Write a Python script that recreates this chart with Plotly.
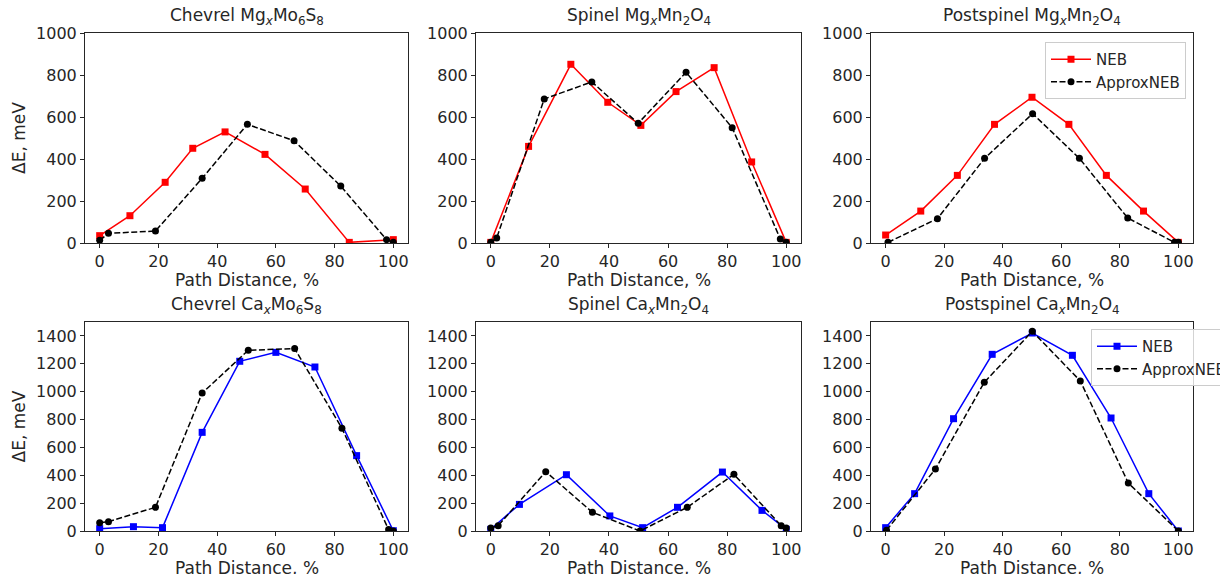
import plotly.graph_objects as go

# ---- data ----
mg_chev_neb_x = [0, 10.3, 22.3, 31.7, 42.7, 56.3, 70.0, 85.0, 100]
mg_chev_neb_y = [35, 130, 289, 451, 529, 422, 257, 3, 16]
mg_chev_apx_x = [0, 3.0, 19.0, 34.9, 50.3, 66.2, 82.1, 97.7, 100]
mg_chev_apx_y = [13, 46, 57, 308, 565, 487, 271, 16, 3]

mg_spin_neb_x = [0, 12.8, 27.1, 39.6, 50.8, 62.7, 75.6, 88.3, 100]
mg_spin_neb_y = [3, 460, 851, 670, 560, 721, 835, 386, 3]
mg_spin_apx_x = [0, 2.0, 18.1, 34.2, 49.9, 66.1, 81.7, 98.0, 100]
mg_spin_apx_y = [3, 24, 686, 767, 570, 813, 549, 19, 3]

mg_post_neb_x = [0, 12.0, 24.5, 37.2, 50.0, 62.6, 75.4, 88.1, 100]
mg_post_neb_y = [38, 152, 322, 565, 694, 565, 322, 152, 3]
mg_post_apx_x = [0.8, 17.7, 33.8, 50.2, 66.2, 82.7, 98.7, 100]
mg_post_apx_y = [3, 116, 403, 616, 403, 119, 3, 3]

ca_chev_neb_x = [0, 11.5, 21.4, 34.9, 47.7, 60.0, 73.3, 87.5, 100]
ca_chev_neb_y = [17, 31, 24, 708, 1218, 1282, 1177, 541, 2]
ca_chev_apx_x = [0, 3.0, 19.0, 34.9, 50.6, 66.4, 82.5, 98.4, 100]
ca_chev_apx_y = [60, 67, 170, 990, 1297, 1309, 737, 10, 0]

ca_spin_neb_x = [0, 9.7, 25.6, 40.3, 51.4, 63.2, 78.4, 91.8, 100]
ca_spin_neb_y = [12, 191, 404, 108, 24, 170, 423, 148, 12]
ca_spin_apx_x = [0, 2.5, 18.6, 34.4, 50.5, 66.5, 82.3, 98.3, 100]
ca_spin_apx_y = [22, 38, 426, 134, 0, 170, 407, 38, 22]

ca_post_neb_x = [0, 9.9, 23.2, 36.4, 50.1, 63.8, 77.0, 89.9, 100]
ca_post_neb_y = [24, 268, 806, 1268, 1421, 1261, 811, 268, 0]
ca_post_apx_x = [0.3, 17.0, 33.7, 50.1, 66.5, 82.9, 100]
ca_post_apx_y = [5, 445, 1067, 1433, 1077, 344, 0]

titles = [
    "Chevrel Mg<sub><i>x</i></sub>Mo<sub>6</sub>S<sub>8</sub>",
    "Spinel Mg<sub><i>x</i></sub>Mn<sub>2</sub>O<sub>4</sub>",
    "Postspinel Mg<sub><i>x</i></sub>Mn<sub>2</sub>O<sub>4</sub>",
    "Chevrel Ca<sub><i>x</i></sub>Mo<sub>6</sub>S<sub>8</sub>",
    "Spinel Ca<sub><i>x</i></sub>Mn<sub>2</sub>O<sub>4</sub>",
    "Postspinel Ca<sub><i>x</i></sub>Mn<sub>2</sub>O<sub>4</sub>",
]
x_label = "Path Distance, %"
y_label = "ΔE, meV"
x_ticks = [0, 20, 40, 60, 80, 100]
y_ticks_mg = [0, 200, 400, 600, 800, 1000]
y_ticks_ca = [0, 200, 400, 600, 800, 1000, 1200, 1400]

panels = [
    (mg_chev_neb_x, mg_chev_neb_y, mg_chev_apx_x, mg_chev_apx_y),
    (mg_spin_neb_x, mg_spin_neb_y, mg_spin_apx_x, mg_spin_apx_y),
    (mg_post_neb_x, mg_post_neb_y, mg_post_apx_x, mg_post_apx_y),
    (ca_chev_neb_x, ca_chev_neb_y, ca_chev_apx_x, ca_chev_apx_y),
    (ca_spin_neb_x, ca_spin_neb_y, ca_spin_apx_x, ca_spin_apx_y),
    (ca_post_neb_x, ca_post_neb_y, ca_post_apx_x, ca_post_apx_y),
]

W, H = 1220, 574
col_px = [(85, 408), (476, 801), (871, 1193)]
row_px = [(33, 243), (322, 531)]
xlab_px = [280, 568]
FONT = "DejaVu Sans"
TXT = "#262626"
TICK_FS = 16
LAB_FS = 17
TITLE_FS = 17
LEG_FS = 15

fig = go.Figure()
layout = dict(
    width=W, height=H,
    margin=dict(l=0, r=0, t=0, b=0, autoexpand=False),
    paper_bgcolor="white", plot_bgcolor="white",
    font=dict(family=FONT, size=TICK_FS, color=TXT),
    annotations=[],
)

for i, (nx, ny, ax_, ay) in enumerate(panels):
    r, c = divmod(i, 3)
    k = i + 1
    xa = "x" if k == 1 else f"x{k}"
    ya = "y" if k == 1 else f"y{k}"
    neb_col = "#ff0000" if r == 0 else "#0000ff"
    leg = "legend" if r == 0 else "legend2"
    show = (c == 2)
    fig.add_trace(go.Scatter(
        x=nx, y=ny, mode="lines+markers", name="NEB",
        line=dict(color=neb_col, width=1.5),
        marker=dict(symbol="square", size=7, color=neb_col),
        xaxis=xa, yaxis=ya, showlegend=show, legend=leg,
    ))
    fig.add_trace(go.Scatter(
        x=ax_, y=ay, mode="lines+markers", name="ApproxNEB",
        line=dict(color="black", width=1.5, dash="6px,2.5px"),
        marker=dict(symbol="circle", size=7, color="black"),
        xaxis=xa, yaxis=ya, showlegend=show, legend=leg,
    ))
    x0, x1 = col_px[c]
    y0, y1 = row_px[r]
    axis_common = dict(
        showgrid=False, zeroline=False, showline=True, mirror=True,
        linecolor="#262626", linewidth=1, ticks="outside", ticklen=4,
        tickcolor="#262626", tickfont=dict(family=FONT, size=TICK_FS, color=TXT),
    )
    layout["xaxis" + ("" if k == 1 else str(k))] = dict(
        domain=[x0 / W, x1 / W], anchor=ya, range=[-5, 105],
        tickvals=x_ticks,
        **axis_common,
    )
    ydict = dict(
        domain=[1 - y1 / H, 1 - y0 / H], anchor=xa,
        range=[0, 1000] if r == 0 else [0, 1500],
        tickvals=y_ticks_mg if r == 0 else y_ticks_ca,
        **axis_common,
    )
    if c == 0:
        ydict["title"] = dict(text=y_label, font=dict(size=LAB_FS, family=FONT, color=TXT), standoff=6)
    layout["yaxis" + ("" if k == 1 else str(k))] = ydict
    layout["annotations"].append(dict(
        text=titles[i], x=(x0 + x1) / 2 / W, y=1 - (y0 - 3) / H,
        xref="paper", yref="paper", xanchor="center", yanchor="bottom",
        showarrow=False, font=dict(size=TITLE_FS, family=FONT, color=TXT),
    ))
    layout["annotations"].append(dict(
        text=x_label, x=(x0 + x1) / 2 / W, y=1 - xlab_px[r] / H,
        xref="paper", yref="paper", xanchor="center", yanchor="middle",
        showarrow=False, font=dict(size=LAB_FS, family=FONT, color=TXT),
        borderpad=0,
    ))

legend_common = dict(
    xanchor="left", yanchor="top",
    bgcolor="rgba(255,255,255,0.8)", bordercolor="#cccccc", borderwidth=1,
    font=dict(size=LEG_FS, family=FONT, color=TXT), tracegroupgap=0,
    itemwidth=40,
)
layout["legend"] = dict(x=1045 / W, y=1 - 42 / H, **legend_common)
layout["legend2"] = dict(x=1091 / W, y=1 - 329 / H, **legend_common)

fig.update_layout(**layout)
fig.write_html("out.html")
